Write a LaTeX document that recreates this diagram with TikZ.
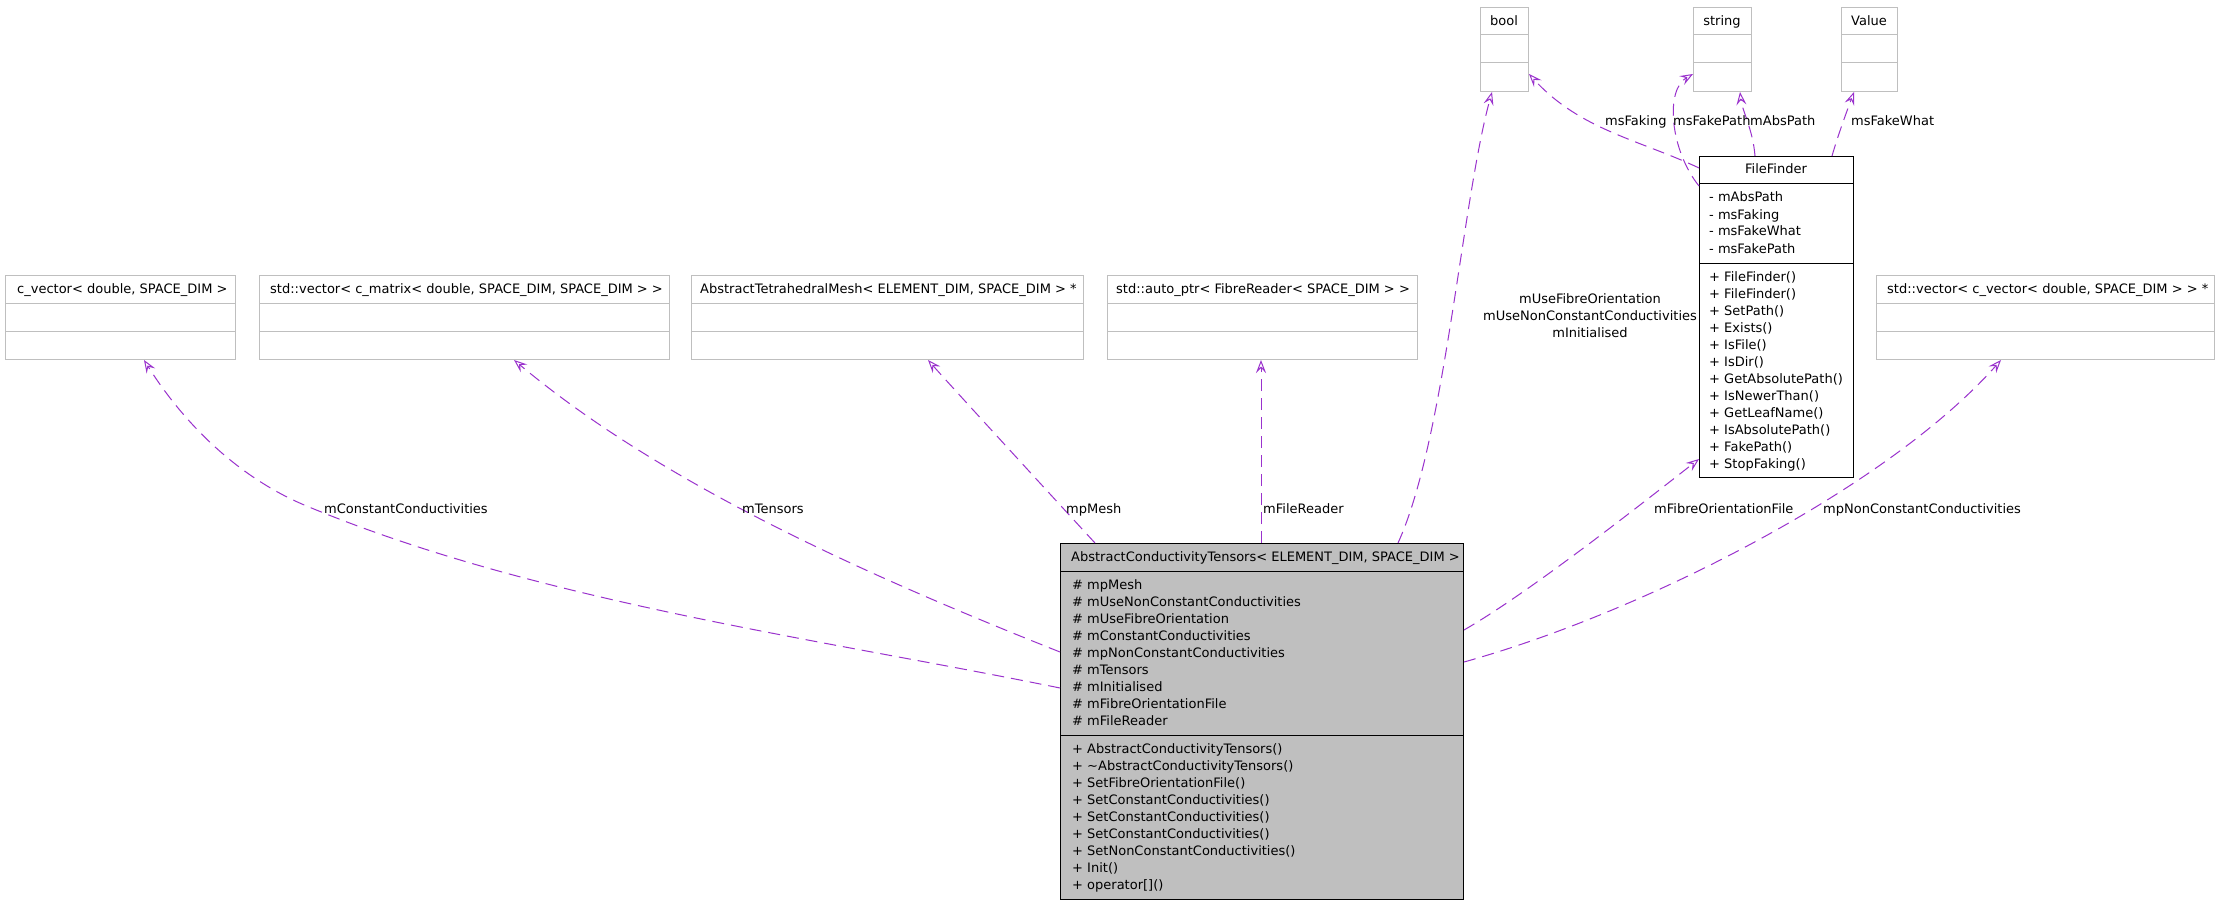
\documentclass[tikz,border=0pt]{standalone}
\usepackage{fontspec}
\setmainfont{DejaVu Sans}
\usetikzlibrary{arrows.meta,calc}
\definecolor{edgecol}{HTML}{9A32CD}
\definecolor{boxgray}{HTML}{BFBFBF}
\begin{document}
\begin{tikzpicture}[x=1pt,y=-1pt,
  font=\fontsize{13}{17}\selectfont,
  graybox/.style={draw=boxgray, line width=1pt, fill=white, inner sep=0pt, anchor=north west, rectangle, minimum height=84pt},
  blackbox/.style={draw=black, line width=1pt, inner sep=0pt, anchor=north west, rectangle},
  grayline/.style={draw=boxgray, line width=1pt},
  blackline/.style={draw=black, line width=1pt},
  txt/.style={anchor=base west, inner sep=0pt},
  ctxt/.style={anchor=base, inner sep=0pt},
  rel/.style={draw=edgecol, line width=1pt, dash pattern=on 12pt off 7pt, -{Stealth[open, length=13pt, width=10pt, inset=5pt]}},
  elabel/.style={anchor=base west, inner sep=0pt},
]
\fill[white] (0,0) rectangle (2219,904);
\useasboundingbox (0,0) rectangle (2219,904);

% ---------- gray class boxes ----------
\node[graybox, minimum width=230pt] (cvec) at (5,275) {};
\node[graybox, minimum width=410pt] (cmat) at (259,275) {};
\node[graybox, minimum width=392pt] (tetra) at (691,275) {};
\node[graybox, minimum width=310pt] (autoptr) at (1107,275) {};
\node[graybox, minimum width=338pt] (cvec2) at (1876,275) {};
\node[graybox, minimum width=48pt] (bool) at (1480,7) {};
\node[graybox, minimum width=58pt] (string) at (1693,7) {};
\node[graybox, minimum width=56pt] (value) at (1841,7) {};
\foreach \b in {cvec,cmat,tetra,autoptr,cvec2,bool,string,value}{
  \draw[grayline] ([yshift=-28pt]\b.north west) -- ([yshift=-28pt]\b.north east);
  \draw[grayline] ([yshift=-56pt]\b.north west) -- ([yshift=-56pt]\b.north east);
}
\node[txt] (tcvec) at (17,293) {c\_vector< double, SPACE\_DIM >};
\node[txt] (tcmat) at (270,293) {std::vector< c\_matrix< double, SPACE\_DIM, SPACE\_DIM > >};
\node[txt] (ttetra) at (700,293) {AbstractTetrahedralMesh< ELEMENT\_DIM, SPACE\_DIM > *};
\node[txt] (tautoptr) at (1116,293) {std::auto\_ptr< FibreReader< SPACE\_DIM > >};
\node[txt] (tcvec2) at (1887,293) {std::vector< c\_vector< double, SPACE\_DIM > > *};
\node[ctxt] (tbool) at (1504,26) {bool};
\node[ctxt] (tstring) at (1722,26) {string};
\node[ctxt] (tvalue) at (1869,26) {Value};

% ---------- FileFinder ----------
\node[blackbox, fill=white, minimum width=154pt, minimum height=321pt] (ff) at (1699,156) {};
\draw[blackline] ([yshift=-28pt]ff.north west) -- ([yshift=-28pt]ff.north east);
\draw[blackline] ([yshift=-107pt]ff.north west) -- ([yshift=-107pt]ff.north east);
\node[ctxt] (fftitle) at (1776,174) {FileFinder};
\foreach [count=\i] \t in {- mAbsPath, - msFaking, - msFakeWhat, - msFakePath}
  \node[txt] (ffa\i) at (1709,{202+17*(\i-1)}) {\t};
\foreach [count=\i] \t in {+ FileFinder(), + FileFinder(), + SetPath(), + Exists(), + IsFile(), + IsDir(), + GetAbsolutePath(), + IsNewerThan(), + GetLeafName(), + IsAbsolutePath(), + FakePath(), + StopFaking()}
  \node[txt] (ffm\i) at (1709,{281+17*(\i-1)}) {\t};

% ---------- main class ----------
\node[blackbox, fill=boxgray, minimum width=403pt, minimum height=356pt] (main) at (1060,543) {};
\draw[blackline] ([yshift=-28pt]main.north west) -- ([yshift=-28pt]main.north east);
\draw[blackline] ([yshift=-192pt]main.north west) -- ([yshift=-192pt]main.north east);
\node[txt] (maintitle) at (1071,561) {AbstractConductivityTensors< ELEMENT\_DIM, SPACE\_DIM >};
\foreach [count=\i] \t in {\# mpMesh, \# mUseNonConstantConductivities, \# mUseFibreOrientation, \# mConstantConductivities, \# mpNonConstantConductivities, \# mTensors, \# mInitialised, \# mFibreOrientationFile, \# mFileReader}
  \node[txt] (mainattr\i) at (1072,{589+17*(\i-1)}) {\t};
\foreach [count=\i] \t in {+ AbstractConductivityTensors(), + \textasciitilde AbstractConductivityTensors(), + SetFibreOrientationFile(), + SetConstantConductivities(), + SetConstantConductivities(), + SetConstantConductivities(), + SetNonConstantConductivities(), + Init(), + operator[]()}
  \node[txt] (mainmeth\i) at (1072,{753+17*(\i-1)}) {\t};

% ---------- connectors ----------
\draw[rel] ($(main.north west)+(0,145)$) .. controls (815,638) and (539,602) .. (309,507)
   .. controls (235,477) and (181,419) .. ($(cvec.south west)+(139,0)$);
\draw[rel] ($(main.north west)+(0,109)$) .. controls (874,578) and (666,487) .. ($(cmat.south west)+(255,0)$);
\draw[rel] ($(main.north west)+(35,0)$) .. controls (1060,505) and (950,385) .. ($(tetra.south west)+(237,0)$);
\draw[rel] ($(main.north west)+(201,0)$) -- ($(autoptr.south west)+(154,0)$);
\draw[rel] ($(main.north west)+(338,0)$) .. controls (1445,440) and (1462,200) .. ($(bool.south west)+(12,0)$);
\draw[rel] ($(ff.north west)+(0,12)$) .. controls (1640,140) and (1580,130) .. ($(bool.south east)+(0,-18)$);
\draw[rel] ($(ff.north west)+(0,30)$) .. controls (1670,150) and (1665,90) .. ($(string.south west)+(0,-18)$);
\draw[rel] ($(ff.north west)+(56,0)$) .. controls (1753,130) and (1742,110) .. ($(string.south west)+(47,0)$);
\draw[rel] ($(ff.north west)+(133,0)$) .. controls (1838,135) and (1848,108) .. ($(value.south west)+(13,0)$);
\draw[rel] ($(main.north east)+(0,87)$) .. controls (1530,592) and (1640,505) .. ($(ff.south west)+(0,-19)$);
\draw[rel] ($(main.north east)+(0,119)$) .. controls (1650,610) and (1890,485) .. ($(cvec2.south west)+(125,0)$);

% ---------- connector labels ----------
\node[elabel] (l1) at (324,513) {mConstantConductivities};
\node[elabel] (l2) at (742,513) {mTensors};
\node[elabel] (l3) at (1066,513) {mpMesh};
\node[elabel] (l4) at (1263,513) {mFileReader};
\node[ctxt] (l5a) at (1590,303) {mUseFibreOrientation};
\node[ctxt] (l5b) at (1590,320) {mUseNonConstantConductivities};
\node[ctxt] (l5c) at (1590,337) {mInitialised};
\node[elabel] (l6) at (1654,513) {mFibreOrientationFile};
\node[elabel] (l7) at (1823,513) {mpNonConstantConductivities};
\node[elabel] (l8) at (1605,126) {msFaking};
\node[elabel] (l9) at (1673,126) {msFakePath};
\node[elabel] (l10) at (1750,126) {mAbsPath};
\node[elabel] (l11) at (1851,126) {msFakeWhat};
\end{tikzpicture}
\end{document}
